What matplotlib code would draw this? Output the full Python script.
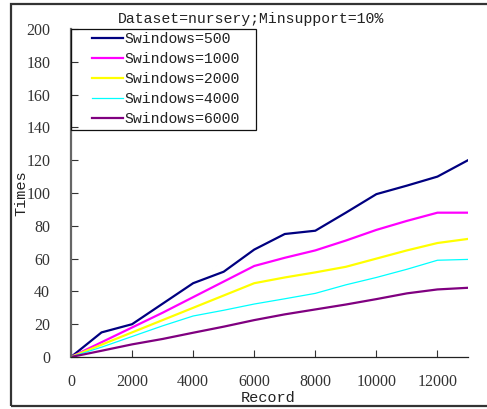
import matplotlib

matplotlib.use("Agg")
import matplotlib.pyplot as plt  # noqa: E402
from matplotlib.patches import Rectangle  # noqa: E402

# record counts processed and mining time for each sliding-window size
records = [0, 1000, 2000, 3000, 4000, 5000, 6000, 7000, 8000, 9000, 10000,
           11000, 12000, 13000]
times_500 = [0, 15, 20, 32.5, 45, 52, 65.5, 75, 77, 88, 99.3, 104.5, 110, 120]
times_1000 = [0, 9, 18, 27, 36.5, 46, 55.5, 60.5, 65, 71, 77.5, 83, 88, 88]
times_2000 = [0, 7.5, 15, 22.5, 30, 37.5, 45, 48.5, 51.6, 55, 60, 65, 69.5, 72]
times_4000 = [0, 6, 12.5, 19, 25, 28.5, 32.3, 35.5, 38.8, 44, 48.5, 53.5, 59, 59.5]
times_6000 = [0, 3.8, 7.7, 11, 14.8, 18.5, 22.5, 26, 29, 32, 35.3, 38.8, 41.2, 42.2]

series = [
    ("Swindows=500", times_500, "#000080", 1.6),
    ("Swindows=1000", times_1000, "#ff00ff", 1.6),
    ("Swindows=2000", times_2000, "#ffff00", 1.6),
    ("Swindows=4000", times_4000, "#00ffff", 0.9),
    ("Swindows=6000", times_6000, "#800080", 1.6),
]

mono = "Liberation Mono"
serif = "Liberation Serif"
W, H = 487, 409

fig = plt.figure(figsize=(W / 100, H / 100), dpi=100)
ax = fig.add_axes([71 / W, 1 - 357 / H, 397 / W, 328 / H])

for label, ys, color, lw in series:
    ax.plot(records, ys, color=color, lw=lw, label=label)

ax.set_xlim(0, 13000)
ax.set_ylim(0, 200)
ax.set_xticks(range(0, 13000, 2000))
ax.set_yticks(range(0, 201, 20))
ax.tick_params(direction="in", length=5, width=0.8, labelsize=11.5,
               color="#333333")
ax.tick_params(axis="y", pad=15)
ax.tick_params(axis="x", pad=12)
for t in ax.get_xticklabels() + ax.get_yticklabels():
    t.set_fontfamily(serif)
    t.set_color("#333333")

for side in ("top", "right"):
    ax.spines[side].set_visible(False)
ax.spines["left"].set_color("#666666")
ax.spines["left"].set_linewidth(1.6)
ax.spines["bottom"].set_color("#222222")
ax.spines["bottom"].set_linewidth(0.9)

fig.text(268 / W, 1 - 398 / H, "Record", ha="center", va="center",
         family=mono, fontsize=11, color="#222222")
fig.text(21 / W, 1 - 193 / H, "Times", ha="center", va="center",
         rotation=90, family=mono, fontsize=11, color="#222222")
fig.text(251 / W, 1 - 19 / H, "Dataset=nursery;Minsupport=10%",
         ha="center", va="center", family=mono, fontsize=10.7,
         color="#222222")

# legend entries without matplotlib's frame; the box is drawn separately
leg = fig.legend(loc="upper left", bbox_to_anchor=(92 / W, 1 - 32 / H),
                 frameon=False, borderpad=0, labelspacing=0.40,
                 handlelength=2.1, handletextpad=0.1, borderaxespad=0,
                 prop={"family": mono, "size": 10.7})
for t in leg.get_texts():
    t.set_color("#222222")
fig.patches.append(Rectangle((71 / W, 1 - 130 / H), 185 / W, 101 / H,
                             transform=fig.transFigure, fill=False,
                             edgecolor="#111111", lw=0.9))

# frame around the whole figure
fig.patches.append(Rectangle((11 / W, 3 / H), 1.0, 402 / H,
                             transform=fig.transFigure, fill=False,
                             edgecolor="#333333", lw=1.6))

fig.savefig("out.png", dpi=100)
